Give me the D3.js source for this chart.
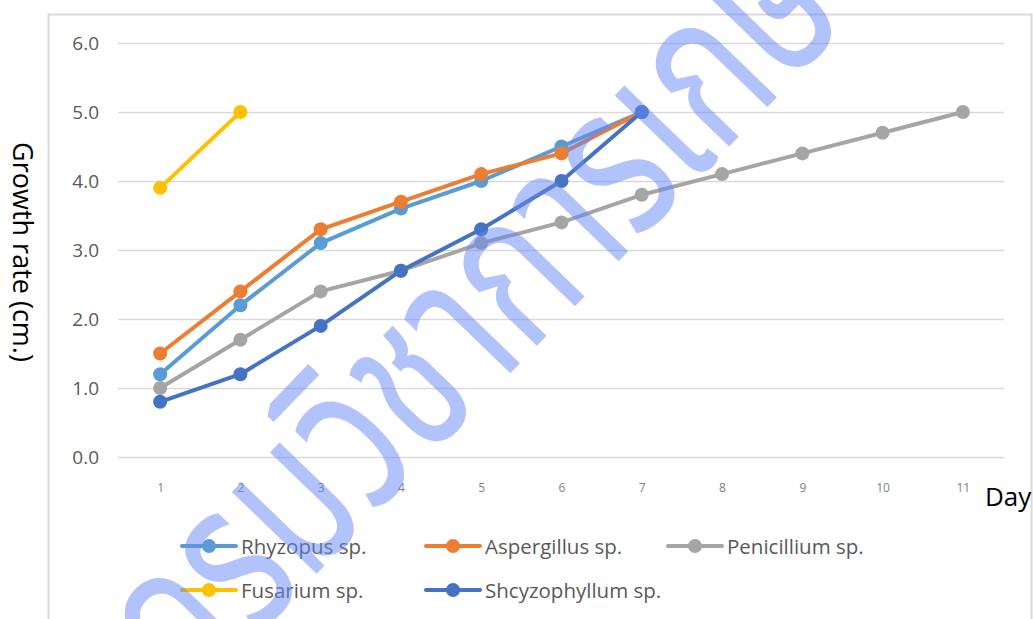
<!DOCTYPE html>
<html>
<head>
<meta charset="utf-8">
<script src="https://cdn.jsdelivr.net/npm/d3@7/dist/d3.min.js"></script>
<style>
  html, body { margin: 0; padding: 0; background: #fff; }
  svg { display: block; }
</style>
</head>
<body>
<svg id="chart" width="1033" height="619"></svg>
<script>
// Days of observation
const days = [1, 2, 3, 4, 5, 6, 7, 8, 9, 10, 11];
const yTicks = [0, 1, 2, 3, 4, 5, 6];

// Colony growth (cm.) per fungus, by day
const rhyzopus      = [1.2, 2.2, 3.1, 3.6, 4.0, 4.5, 5.0];
const aspergillus   = [1.5, 2.4, 3.3, 3.7, 4.1, 4.4, 5.0];
const penicillium   = [1.0, 1.7, 2.4, 2.7, 3.1, 3.4, 3.8, 4.1, 4.4, 4.7, 5.0];
const fusarium      = [3.9, 5.0];
const shcyzophyllum = [0.8, 1.2, 1.9, 2.7, 3.3, 4.0, 5.0];

const seriesNames  = ["Rhyzopus sp.", "Aspergillus sp.", "Penicillium sp.", "Fusarium sp.", "Shcyzophyllum sp."];
const seriesValues = [rhyzopus, aspergillus, penicillium, fusarium, shcyzophyllum];
const seriesColors = ["#5B9BD5", "#ED7D31", "#A5A5A5", "#FFC000", "#4472C4"];

const watermarkText = "กรมวิชาการเกษตร";

const svg = d3.select("#chart");
const W = 1033, H = 619;
const FONT = "'Open Sans', 'Noto Sans', sans-serif";

svg.append("rect").attr("width", W).attr("height", H).attr("fill", "#fff");

// Chart frame
svg.append("path")
  .attr("d", `M48.5,${H + 2} V14.5 H1031.5 V${H + 2}`)
  .attr("fill", "none").attr("stroke", "#d9d9d9").attr("stroke-width", 2);

const x = d3.scalePoint().domain(days).range([120, 1003]).padding(0.5);
const y = d3.scaleLinear().domain([0, 6]).range([457, 43]);
const plotLeft = 118, plotRight = 1004;

// Horizontal gridlines
svg.append("g")
  .selectAll("line").data(yTicks).join("line")
  .attr("x1", plotLeft).attr("x2", plotRight)
  .attr("y1", d => Math.round(y(d)) + 0.5).attr("y2", d => Math.round(y(d)) + 0.5)
  .attr("stroke", "#d9d9d9").attr("stroke-width", 1.3);

// Y axis labels
const yAxis = d3.axisLeft(y).tickValues(yTicks).tickFormat(d3.format(".1f")).tickSize(0).tickPadding(0);
const gy = svg.append("g").attr("transform", "translate(99,0)").call(yAxis);
gy.select(".domain").remove();
gy.selectAll("text")
  .attr("fill", "#595959").attr("font-size", 19)
  .attr("font-family", FONT);

// X axis labels
const xAxis = d3.axisBottom(x).tickSize(0).tickPadding(0);
const gx = svg.append("g").attr("transform", "translate(0,483)").call(xAxis);
gx.select(".domain").remove();
gx.selectAll("text")
  .attr("fill", "#7f7f7f").attr("font-size", 12)
  .attr("font-family", FONT);

// Axis titles
svg.append("text")
  .attr("transform", "translate(13,252) rotate(90)")
  .attr("text-anchor", "middle")
  .attr("font-family", FONT)
  .attr("font-size", 27).attr("fill", "#000")
  .text("Growth rate (cm.)");

svg.append("text")
  .attr("x", 985).attr("y", 506)
  .attr("font-family", FONT)
  .attr("font-size", 26).attr("fill", "#000")
  .text("Day");

// Series lines and markers
const line = d3.line().x((d, i) => x(days[i])).y(d => y(d));
seriesValues.forEach((vals, s) => {
  const g = svg.append("g");
  g.append("path").datum(vals)
    .attr("d", line)
    .attr("fill", "none").attr("stroke", seriesColors[s])
    .attr("stroke-width", 4).attr("stroke-linejoin", "round").attr("stroke-linecap", "round");
  g.selectAll("circle").data(vals).join("circle")
    .attr("cx", (d, i) => x(days[i])).attr("cy", d => y(d))
    .attr("r", 7).attr("fill", seriesColors[s]);
});

// Legend
const legendPos = [[182, 546], [426, 546], [668, 546], [182, 590], [426, 590]];
seriesNames.forEach((name, s) => {
  const [lx, ly] = legendPos[s];
  const g = svg.append("g").attr("transform", `translate(${lx},${ly})`);
  g.append("line").attr("x1", 0).attr("x2", 54).attr("y1", 0).attr("y2", 0)
    .attr("stroke", seriesColors[s]).attr("stroke-width", 4).attr("stroke-linecap", "round");
  g.append("circle").attr("cx", 27).attr("cy", 0).attr("r", 7).attr("fill", seriesColors[s]);
  g.append("text").attr("x", 59).attr("y", 7.5)
    .attr("font-family", FONT)
    .attr("font-size", 20.5).attr("fill", "#595959")
    .text(name);
});

// Diagonal watermark
svg.append("text")
  .attr("transform", "translate(190,705) rotate(-46) scale(0.72,1)")
  .attr("font-family", "'Noto Sans Thai', 'Loma', 'Garuda', 'Noto Sans', sans-serif")
  .attr("font-size", 215)
  .attr("fill", "rgb(100,135,245)").attr("fill-opacity", 0.5)
  .text(watermarkText);
</script>
</body>
</html>
